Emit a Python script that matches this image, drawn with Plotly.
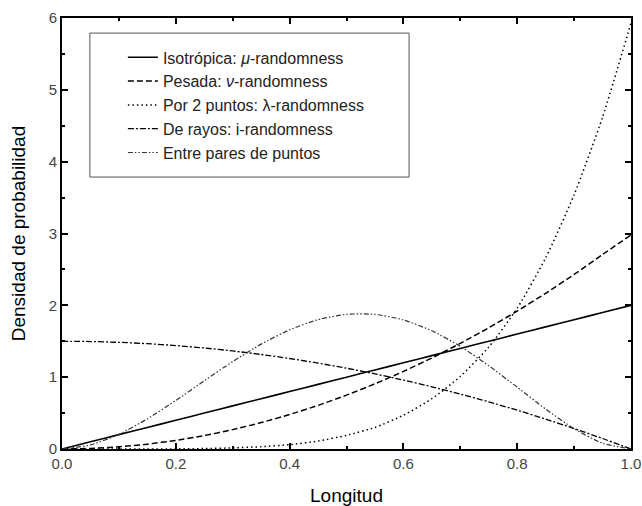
import plotly.graph_objects as go

x = [0.0, 0.05, 0.1, 0.15, 0.2, 0.25, 0.3, 0.35, 0.4, 0.45, 0.5,
     0.55, 0.6, 0.65, 0.7, 0.75, 0.8, 0.85, 0.9, 0.95, 1.0]

isotropica = [0.0, 0.1, 0.2, 0.3, 0.4, 0.5, 0.6, 0.7, 0.8, 0.9, 1.0,
              1.1, 1.2, 1.3, 1.4, 1.5, 1.6, 1.7, 1.8, 1.9, 2.0]
pesada = [0.0, 0.0075, 0.03, 0.0675, 0.12, 0.1875, 0.27, 0.3675, 0.48, 0.6075, 0.75,
          0.9075, 1.08, 1.2675, 1.47, 1.6875, 1.92, 2.1675, 2.43, 2.7075, 2.98]
dos_puntos = [0.0, 0.0, 0.0001, 0.0005, 0.002, 0.006, 0.015, 0.032, 0.061, 0.111, 0.19,
              0.30, 0.47, 0.70, 1.01, 1.42, 1.96, 2.66, 3.54, 4.62, 5.93]
rayos = [1.5, 1.496, 1.485, 1.466, 1.44, 1.406, 1.365, 1.316, 1.26, 1.196, 1.125,
         1.046, 0.96, 0.866, 0.765, 0.656, 0.54, 0.416, 0.285, 0.146, 0.0]
pares = [0.0, 0.056, 0.204, 0.419, 0.676, 0.949, 1.217, 1.46, 1.659, 1.801, 1.875,
         1.874, 1.797, 1.646, 1.429, 1.16, 0.86, 0.556, 0.282, 0.08, 0.0]

names = ["Isotrópica: <i>μ</i>-randomness",
         "Pesada: <i>ν</i>-randomness",
         "Por 2 puntos: λ-randomness",
         "De rayos: i-randomness",
         "Entre pares de puntos"]

series = [isotropica, pesada, dos_puntos, rayos, pares]
styles = [
    dict(color="black", width=1.6, dash="solid"),
    dict(color="black", width=1.5, dash="6px,3px"),
    dict(color="black", width=1.5, dash="1.5px,3px"),
    dict(color="black", width=1.3, dash="6px,2px,2px,2px"),
    dict(color="#333333", width=1.2, dash="5px,2px,1.5px,2px,1.5px,2px"),
]

fig = go.Figure()
for n, s, st in zip(names, series, styles):
    fig.add_trace(go.Scatter(x=x, y=s, mode="lines", name=n,
                             line=dict(shape="spline", smoothing=0.6, **st)))

FONT = "Liberation Sans, Arial"
axis_common = dict(
    showline=True, linecolor="black", linewidth=2, mirror="allticks",
    ticks="inside", ticklen=6, tickwidth=2, tickcolor="black",
    showgrid=False, zeroline=False, automargin=False,
    tickfont=dict(family=FONT, size=15, color="#444444"),
)

fig.update_xaxes(range=[0, 1], dtick=0.2, tick0=0, tickformat=".1f",
                 minor=dict(ticks="inside", ticklen=3, tickwidth=1.5, dtick=0.1, tickcolor="black"),
                 title=dict(text="Longitud", standoff=20,
                            font=dict(family=FONT, size=19, color="black")),
                 **axis_common)
fig.update_yaxes(range=[0, 6], dtick=1, tick0=0,
                 minor=dict(ticks="inside", ticklen=3, tickwidth=1.5, dtick=0.5, tickcolor="black"),
                 title=dict(text="Densidad de probabilidad", standoff=18,
                            font=dict(family=FONT, size=19, color="black")),
                 **axis_common)

# legend frame
fig.add_shape(type="rect", xref="paper", yref="paper",
              x0=0.049, x1=0.610, y0=0.631, y1=0.965,
              line=dict(color="#555555", width=1), fillcolor="white", layer="below")

fig.update_layout(
    width=642, height=506,
    margin=dict(l=62, r=11, t=18, b=57),
    paper_bgcolor="white", plot_bgcolor="white",
    showlegend=True,
    legend=dict(x=0.107, y=0.948, xanchor="left", yanchor="top",
                bgcolor="rgba(0,0,0,0)", borderwidth=0,
                font=dict(family=FONT, size=16, color="#222222")),
)

fig.write_html("out.html")
